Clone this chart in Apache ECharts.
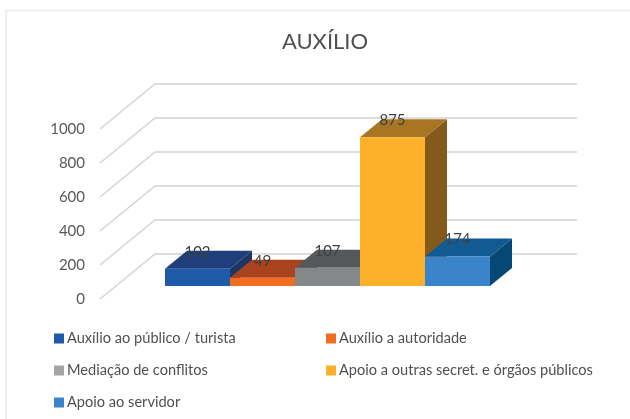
<!DOCTYPE html>
<html><head><meta charset="utf-8">
<style>html,body{margin:0;padding:0;background:#fff}#c{width:630px;height:419px}</style>
<script src="https://cdn.jsdelivr.net/npm/echarts@6/dist/echarts.min.js"></script>
</head><body><div id="c"></div>
<script>
const categories = ['Auxílio ao público / turista','Auxílio a autoridade','Mediação de conflitos','Apoio a outras secret. e órgãos públicos','Apoio ao servidor'];
const values = [102, 49, 107, 875, 174];
const tickValues = [0, 200, 400, 600, 800, 1000];
const frontColors = ['#1f5aa8','#f26d21','#85888a','#fdb02a','#3a84c9'];
const topColors = ['#1f3f7c','#a8431e','#55585a','#a87522','#125a92'];
const sideColors = ['#1f3564','#8a3718','#46484a','#835a1c','#064875'];
const legendColors = ['#1f5aa8','#f26d21','#a5a5a5','#fdb02a','#3a84c9'];
const FONT = 'Lato';
const BAR_DX = 22, BAR_DY = 18, WALL_DX = 55, WALL_DY = 45, WALL_RIGHT = 577;

function renderBar(idx) {
  return function (params, api) {
    const base = api.coord([api.value(0), 0]);
    const top = api.coord([api.value(0), api.value(1)]);
    const w = api.size([1, 0])[0];
    const x0 = base[0] - w / 2, x1 = base[0] + w / 2, yb = base[1], yt = top[1];
    return { type: 'group', children: [
      { type: 'polygon', shape: { points: [[x1,yb],[x1+BAR_DX,yb-BAR_DY],[x1+BAR_DX,yt-BAR_DY],[x1,yt]] }, style: { fill: sideColors[idx] } },
      { type: 'polygon', shape: { points: [[x0,yt],[x1,yt],[x1+BAR_DX,yt-BAR_DY],[x0+BAR_DX,yt-BAR_DY]] }, style: { fill: topColors[idx] } },
      { type: 'rect', shape: { x: x0, y: yt, width: w, height: yb - yt }, style: { fill: frontColors[idx] } },
      { type: 'text', z2: 100, style: { x: base[0], y: yt - 17, text: String(api.value(1)), fill: '#404040', font: '15px ' + FONT, align: 'center', verticalAlign: 'middle' } }
    ]};
  };
}
function renderWall(params, api) {
  const p = api.coord([0, api.value(0)]);
  return { type: 'polyline', shape: { points: [[p[0],p[1]],[p[0]+WALL_DX,p[1]-WALL_DY],[WALL_RIGHT,p[1]-WALL_DY]] },
    style: { stroke: '#d4d4d4', lineWidth: 1.5, fill: null } };
}
const chart = echarts.init(document.getElementById('c'), null, { renderer: 'canvas' });
const legendBase = { orient: 'vertical', itemWidth: 10, itemHeight: 10, itemGap: 17, icon: 'rect', selectedMode: false,
  textStyle: { fontFamily: FONT, fontSize: 14.6, color: '#505050', padding: [0,0,0,-2] }, padding: 0 };
chart.setOption({
  animation: false,
  backgroundColor: '#fff',
  color: legendColors,
  title: { text: 'AUXÍLIO', left: 320, textAlign: 'center', top: 26, textStyle: { fontFamily: FONT, fontSize: 22, fontWeight: 'normal', color: '#505050' } },
  graphic: [{ type: 'polyline', silent: true, shape: { points: [[6,419],[6,10.5],[630,10.5]] }, style: { stroke: '#eeeeee', lineWidth: 2, fill: null } }],
  legend: [
    Object.assign({}, legendBase, { left: 54, top: 331, data: [categories[0], categories[2], categories[4]] }),
    Object.assign({}, legendBase, { left: 326, top: 331, data: [categories[1], categories[3]] })
  ],
  grid: [
    { left: 165, width: 325, top: 116, height: 170 },
    { left: 100, width: 480, top: 129, height: 170 }
  ],
  xAxis: [
    { type: 'category', gridIndex: 0, data: categories, show: false },
    { type: 'value', gridIndex: 1, min: 0, max: 1, show: false }
  ],
  yAxis: [
    { type: 'value', gridIndex: 0, min: 0, max: 1000, show: false },
    { type: 'value', gridIndex: 1, min: 0, max: 1000, interval: 200,
      axisLine: { show: false }, axisTick: { show: false }, splitLine: { show: false },
      axisLabel: { margin: 15, fontFamily: FONT, fontSize: 15, color: '#595959', formatter: v => String(v) } }
  ],
  series: [
    { type: 'custom', name: 'wall', xAxisIndex: 1, yAxisIndex: 1, silent: true, renderItem: renderWall, data: tickValues.map(v => [v]), encode: { y: 0 }, z: 1 },
    ...categories.map((c, i) => ({ type: 'custom', name: c, xAxisIndex: 0, yAxisIndex: 0, silent: true, z: 2,
      itemStyle: { color: legendColors[i] }, renderItem: renderBar(i), data: [[i, values[i]]], encode: { x: 0, y: 1 } }))
  ]
});
</script></body></html>
